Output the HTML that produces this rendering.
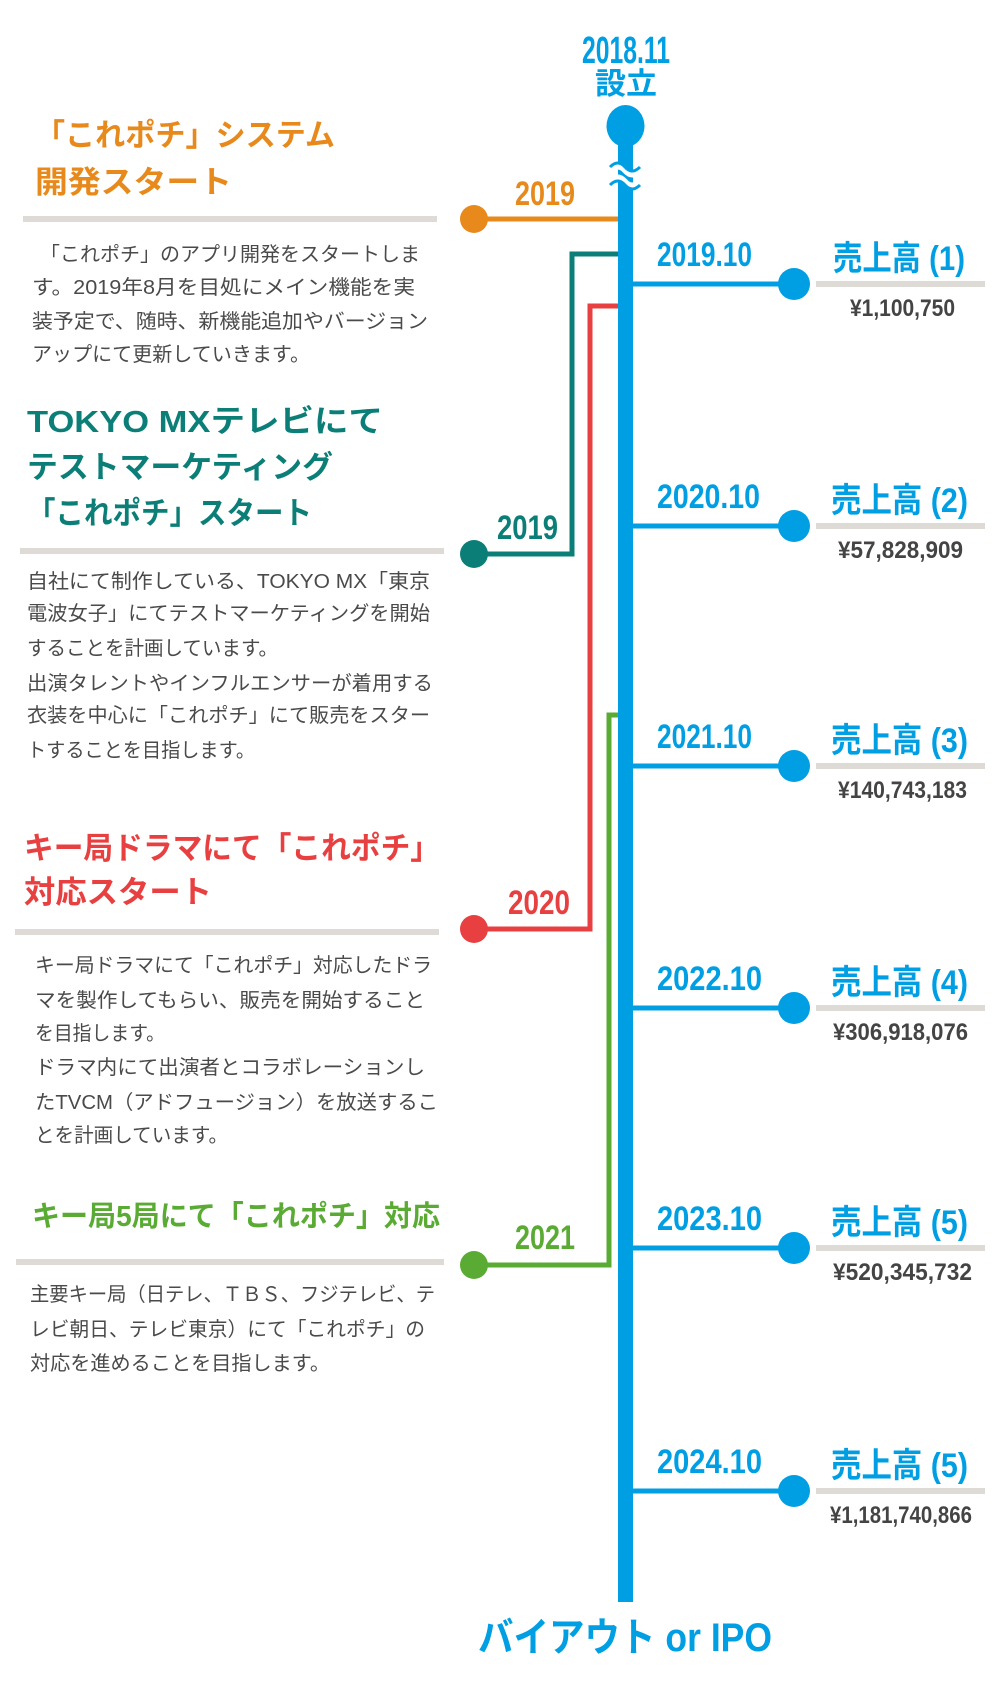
<!DOCTYPE html>
<html><head><meta charset="utf-8"><style>
html,body{margin:0;padding:0;background:#fff;}
svg{display:block;}
text{font-family:"Liberation Sans","Noto Sans CJK JP",sans-serif;}
.b{font-weight:bold;}
.body{font-size:20px;fill:#4a4a4a;}
</style></head><body>
<svg width="1000" height="1696" viewBox="0 0 1000 1696" xmlns="http://www.w3.org/2000/svg">
<g lengthAdjust="spacingAndGlyphs">
<!-- top -->
<text class="b" x="582" y="63" font-size="38" fill="#009fe3" textLength="88" lengthAdjust="spacingAndGlyphs">2018.11</text>
<text class="b" x="595" y="94" font-size="30" fill="#009fe3" textLength="62" lengthAdjust="spacingAndGlyphs">設立</text>
<rect x="618" y="129" width="15" height="1473" fill="#009fe3"/>
<ellipse cx="625.5" cy="126" rx="19" ry="21" fill="#009fe3"/>
<path d="M610 171 q8 -8 15 0 t15 0" stroke="#fff" stroke-width="5" fill="none"/>
<path d="M610 181 q8 -8 15 0 t15 0" stroke="#fff" stroke-width="5" fill="none"/>
<path d="M610 167 q8 -8 15 0 t15 0" stroke="#009fe3" stroke-width="3" fill="none"/>
<path d="M610 185 q8 -8 15 0 t15 0" stroke="#009fe3" stroke-width="3" fill="none"/>

<!-- orange -->
<text class="b" x="35" y="146" font-size="31" fill="#e8891c" textLength="300" lengthAdjust="spacingAndGlyphs">「これポチ」システム</text>
<text class="b" x="35" y="193" font-size="31" fill="#e8891c" textLength="197" lengthAdjust="spacingAndGlyphs">開発スタート</text>
<rect x="23" y="216" width="414" height="6" fill="#dedad6"/>
<line x1="474" y1="219" x2="618" y2="219" stroke="#e8891c" stroke-width="5"/>
<circle cx="474" cy="219" r="14" fill="#e8891c"/>
<text class="b" x="515" y="205" font-size="34" fill="#e8891c" textLength="60" lengthAdjust="spacingAndGlyphs">2019</text>
<text class="body" x="40" y="261" textLength="380" lengthAdjust="spacingAndGlyphs">「これポチ」のアプリ開発をスタートしま</text>
<text class="body" x="32" y="294" textLength="383" lengthAdjust="spacingAndGlyphs">す。2019年8月を目処にメイン機能を実</text>
<text class="body" x="32" y="328" textLength="396" lengthAdjust="spacingAndGlyphs">装予定で、随時、新機能追加やバージョン</text>
<text class="body" x="32" y="361" textLength="278" lengthAdjust="spacingAndGlyphs">アップにて更新していきます。</text>

<!-- teal -->
<polyline points="618,254 572,254 572,554 474,554" stroke="#0b7f77" stroke-width="5" fill="none"/>
<circle cx="474" cy="554" r="14" fill="#0b7f77"/>
<text class="b" x="27" y="432" font-size="31" fill="#0b7f77" textLength="356" lengthAdjust="spacingAndGlyphs">TOKYO MXテレビにて</text>
<text class="b" x="27" y="478" font-size="31" fill="#0b7f77" textLength="306" lengthAdjust="spacingAndGlyphs">テストマーケティング</text>
<text class="b" x="27" y="524" font-size="31" fill="#0b7f77" textLength="285" lengthAdjust="spacingAndGlyphs">「これポチ」スタート</text>
<rect x="20" y="548" width="424" height="6" fill="#dedad6"/>
<text class="b" x="497" y="539" font-size="34" fill="#0b7f77" textLength="61" lengthAdjust="spacingAndGlyphs">2019</text>
<text class="body" x="27" y="588" textLength="403" lengthAdjust="spacingAndGlyphs">自社にて制作している、TOKYO MX「東京</text>
<text class="body" x="27" y="620" textLength="403" lengthAdjust="spacingAndGlyphs">電波女子」にてテストマーケティングを開始</text>
<text class="body" x="27" y="655" textLength="251" lengthAdjust="spacingAndGlyphs">することを計画しています。</text>
<text class="body" x="27" y="690" textLength="406" lengthAdjust="spacingAndGlyphs">出演タレントやインフルエンサーが着用する</text>
<text class="body" x="27" y="722" textLength="403" lengthAdjust="spacingAndGlyphs">衣装を中心に「これポチ」にて販売をスター</text>
<text class="body" x="27" y="757" textLength="228" lengthAdjust="spacingAndGlyphs">トすることを目指します。</text>

<!-- red -->
<polyline points="618,306 590,306 590,929 474,929" stroke="#e84040" stroke-width="5" fill="none"/>
<circle cx="474" cy="929" r="14" fill="#e84040"/>
<text class="b" x="24" y="859" font-size="31" fill="#e84040" textLength="416" lengthAdjust="spacingAndGlyphs">キー局ドラマにて「これポチ」</text>
<text class="b" x="24" y="903" font-size="31" fill="#e84040" textLength="188" lengthAdjust="spacingAndGlyphs">対応スタート</text>
<rect x="15" y="929" width="424" height="6" fill="#dedad6"/>
<text class="b" x="508" y="914" font-size="34" fill="#e84040" textLength="62" lengthAdjust="spacingAndGlyphs">2020</text>
<text class="body" x="35" y="972" textLength="397" lengthAdjust="spacingAndGlyphs">キー局ドラマにて「これポチ」対応したドラ</text>
<text class="body" x="35" y="1007" textLength="390" lengthAdjust="spacingAndGlyphs">マを製作してもらい、販売を開始すること</text>
<text class="body" x="35" y="1040" textLength="130" lengthAdjust="spacingAndGlyphs">を目指します。</text>
<text class="body" x="35" y="1074" textLength="390" lengthAdjust="spacingAndGlyphs">ドラマ内にて出演者とコラボレーションし</text>
<text class="body" x="35" y="1109" textLength="403" lengthAdjust="spacingAndGlyphs">たTVCM（アドフュージョン）を放送するこ</text>
<text class="body" x="35" y="1142" textLength="193" lengthAdjust="spacingAndGlyphs">とを計画しています。</text>

<!-- green -->
<polyline points="618,715 609,715 609,1265 474,1265" stroke="#5aab34" stroke-width="5" fill="none"/>
<circle cx="474" cy="1265" r="14" fill="#5aab34"/>
<text class="b" x="32" y="1226" font-size="29" fill="#5aab34" textLength="408" lengthAdjust="spacingAndGlyphs">キー局5局にて「これポチ」対応</text>
<rect x="16" y="1259" width="428" height="6" fill="#dedad6"/>
<text class="b" x="515" y="1249" font-size="34" fill="#5aab34" textLength="60" lengthAdjust="spacingAndGlyphs">2021</text>
<text class="body" x="30" y="1301" textLength="405" lengthAdjust="spacingAndGlyphs">主要キー局（日テレ、ＴＢＳ、フジテレビ、テ</text>
<text class="body" x="30" y="1336" textLength="395" lengthAdjust="spacingAndGlyphs">レビ朝日、テレビ東京）にて「これポチ」の</text>
<text class="body" x="30" y="1370" textLength="300" lengthAdjust="spacingAndGlyphs">対応を進めることを目指します。</text>

<!-- right branches -->
<g fill="#009fe3">
<line x1="633" y1="284" x2="794" y2="284" stroke="#009fe3" stroke-width="5"/><circle cx="794" cy="284" r="16"/>
<line x1="633" y1="526" x2="794" y2="526" stroke="#009fe3" stroke-width="5"/><circle cx="794" cy="526" r="16"/>
<line x1="633" y1="766" x2="794" y2="766" stroke="#009fe3" stroke-width="5"/><circle cx="794" cy="766" r="16"/>
<line x1="633" y1="1008" x2="794" y2="1008" stroke="#009fe3" stroke-width="5"/><circle cx="794" cy="1008" r="16"/>
<line x1="633" y1="1248" x2="794" y2="1248" stroke="#009fe3" stroke-width="5"/><circle cx="794" cy="1248" r="16"/>
<line x1="633" y1="1491" x2="794" y2="1491" stroke="#009fe3" stroke-width="5"/><circle cx="794" cy="1491" r="16"/>
</g>
<g fill="#dedad6">
<rect x="816" y="281" width="169" height="6"/><rect x="816" y="523" width="169" height="6"/>
<rect x="816" y="763" width="169" height="6"/><rect x="816" y="1005" width="169" height="6"/>
<rect x="816" y="1245" width="169" height="6"/><rect x="816" y="1488" width="169" height="6"/>
</g>
<g class="b" font-size="34" fill="#009fe3">
<text x="657" y="266" textLength="95" lengthAdjust="spacingAndGlyphs">2019.10</text>
<text x="657" y="508" textLength="103" lengthAdjust="spacingAndGlyphs">2020.10</text>
<text x="657" y="748" textLength="95" lengthAdjust="spacingAndGlyphs">2021.10</text>
<text x="657" y="990" textLength="105" lengthAdjust="spacingAndGlyphs">2022.10</text>
<text x="657" y="1230" textLength="105" lengthAdjust="spacingAndGlyphs">2023.10</text>
<text x="657" y="1473" textLength="105" lengthAdjust="spacingAndGlyphs">2024.10</text>
<text x="833" y="270" textLength="132" lengthAdjust="spacingAndGlyphs">売上高 (1)</text>
<text x="831" y="512" textLength="137" lengthAdjust="spacingAndGlyphs">売上高 (2)</text>
<text x="831" y="752" textLength="137" lengthAdjust="spacingAndGlyphs">売上高 (3)</text>
<text x="831" y="994" textLength="137" lengthAdjust="spacingAndGlyphs">売上高 (4)</text>
<text x="831" y="1234" textLength="137" lengthAdjust="spacingAndGlyphs">売上高 (5)</text>
<text x="831" y="1477" textLength="137" lengthAdjust="spacingAndGlyphs">売上高 (5)</text>
</g>
<g class="b" font-size="24" fill="#444">
<text x="850" y="316" textLength="105" lengthAdjust="spacingAndGlyphs">¥1,100,750</text>
<text x="838" y="558" textLength="125" lengthAdjust="spacingAndGlyphs">¥57,828,909</text>
<text x="838" y="798" textLength="129" lengthAdjust="spacingAndGlyphs">¥140,743,183</text>
<text x="833" y="1040" textLength="135" lengthAdjust="spacingAndGlyphs">¥306,918,076</text>
<text x="833" y="1280" textLength="139" lengthAdjust="spacingAndGlyphs">¥520,345,732</text>
<text x="830" y="1523" textLength="142" lengthAdjust="spacingAndGlyphs">¥1,181,740,866</text>
</g>

<text class="b" x="478" y="1651" font-size="40" fill="#009fe3" textLength="294" lengthAdjust="spacingAndGlyphs">バイアウト or IPO</text>
</g>
</svg>
</body></html>
